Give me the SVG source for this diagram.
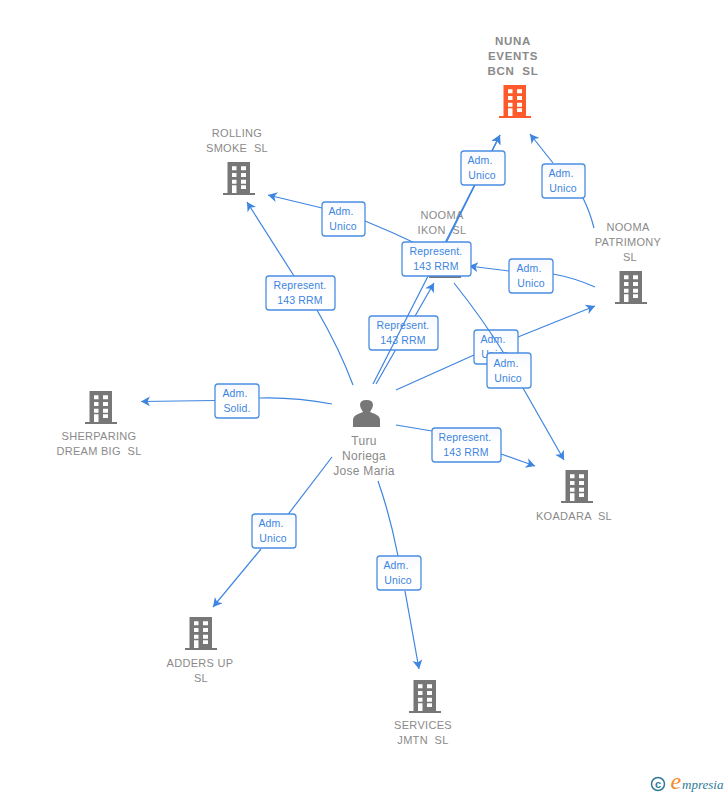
<svg xmlns="http://www.w3.org/2000/svg" width="728" height="795" viewBox="0 0 728 795">
<style>
text{font-family:"Liberation Sans",Arial,sans-serif}
.n{font-size:11px;fill:#8a8a8a;text-anchor:middle;letter-spacing:.3px;white-space:pre}
.b{font-weight:bold;font-size:11.500px;letter-spacing:.7px}
.t{font-size:12px}
.c{fill:none;stroke:#3d85e0;stroke-width:1.200}
.a{marker-end:url(#ah)}
.lb{fill:url(#lg);stroke:#4a8de2;stroke-width:1.300}
.lt{font-size:10.500px;fill:#3d85e0;text-anchor:middle;letter-spacing:.15px}
</style>
<defs>
<linearGradient id="lg" x1="0" y1="0" x2="0" y2="1"><stop offset="0" stop-color="#f7f9fd"/><stop offset=".5" stop-color="#fff"/></linearGradient>
<marker id="ah" markerUnits="userSpaceOnUse" markerWidth="12" markerHeight="12" refX="9" refY="5" orient="auto"><path d="M0 0L9 5L0 10L2.500 5Z" fill="#3d85e0"/></marker>
<path id="bld" fill-rule="evenodd" d="M4.500 0H27V31H32V33H0V31H4.500ZM9 4.300V8.300H13.500V4.300ZM18 4.300V8.300H23V4.300ZM9 11V15H13.500V11ZM18 11V15H23V11ZM9 17.700V21.700H13.500V17.700ZM18 17.700V21.700H23V17.700ZM9 23.300V31H13.500V23.300ZM18 23.300V27H23V23.300Z"/>
</defs>
<rect width="728" height="795" fill="#fff"/>
<g id="node-nuna"><use href="#bld" x="499" y="85" fill="#ff5a2b"/><text class="n b" x="513" y="45">NUNA</text><text class="n b" x="513" y="60">EVENTS</text><text class="n b" x="513" y="75">BCN  SL</text></g>
<g id="node-rolling"><use href="#bld" x="223" y="162" fill="#777"/><text class="n" x="237" y="137">ROLLING</text><text class="n" x="237" y="152">SMOKE  SL</text></g>
<g id="node-ikon"><use href="#bld" x="429" y="245" fill="#777"/><text class="n" x="442" y="219">NOOMA</text><text class="n" x="442" y="234">IKON  SL</text></g>
<g id="node-patrimony"><use href="#bld" x="615" y="271" fill="#777"/><text class="n" x="628" y="231">NOOMA</text><text class="n" x="628" y="246">PATRIMONY</text><text class="n" x="630" y="261">SL</text></g>
<g id="node-koadara"><use href="#bld" x="561" y="470" fill="#777"/><text class="n" x="574" y="520">KOADARA  SL</text></g>
<g id="node-sherparing"><use href="#bld" x="85" y="391" fill="#777"/><text class="n" x="99" y="440">SHERPARING</text><text class="n" x="99" y="455">DREAM BIG  SL</text></g>
<g id="node-adders"><use href="#bld" x="185" y="617" fill="#777"/><text class="n" x="200" y="667">ADDERS UP</text><text class="n" x="201" y="682">SL</text></g>
<g id="node-services"><use href="#bld" x="409" y="680" fill="#777"/><text class="n" x="423" y="729">SERVICES</text><text class="n" x="423" y="744">JMTN  SL</text></g>
<g id="node-turu"><path fill="#777" d="M353 427V420Q353 416 358 414L363 412Q360 408 360 405Q360 400 366.500 400Q373 400 373 405Q373 408 370 412L375 414Q380 416 380 420V427Z"/><text class="n t" x="364" y="445">Turu</text><text class="n t" x="364" y="460">Noriega</text><text class="n t" x="364" y="475">Jose Maria</text></g>
<g id="connectors">
<path class="c" d="M353 385Q340 350 317 310"/><path class="c a" d="M294 276L247 202"/>
<path class="c" d="M417 244Q392 232 365 221"/><path class="c a" d="M322 208L268 195"/>
<path class="c a" d="M376 384L434 283"/>
<path class="c a" d="M446 243L500 135"/>
<path class="c" d="M595 287Q575 278 553 274"/><path class="c a" d="M509 271L469 266"/>
<path class="c" d="M594 228Q590 212 583 198"/><path class="c a" d="M553 163L530 134"/>
<path class="c" d="M396 390L474 355"/><path class="c a" d="M518 337L595 306"/>
<path class="c a" d="M523 388L564 460"/>
<path class="c" d="M396 425L432 431"/><path class="c a" d="M501 454L535 466"/>
<path class="c" d="M332 404Q295 397 259 398"/><path class="c a" d="M215 400.500L141 401.500"/>
<path class="c" d="M332 457L280 525"/><path class="c a" d="M261 549L213 607"/>
<path class="c" d="M378 481Q390 515 398 556"/><path class="c a" d="M405 591L419 669"/>
</g>
<g id="labels-back">
<rect class="lb" x="369" y="316" width="69" height="34" rx="3"/><text class="lt" x="403" y="329">Represent.</text><text class="lt" x="403" y="344">143 RRM</text>
<rect class="lb" x="474" y="330" width="44" height="34" rx="3"/><text class="lt" x="493" y="343">Adm.</text><text class="lt" x="495" y="358">Unico</text>
</g>
<g id="connectors-front">
<path class="c a" d="M373 384L500 135"/>
<path class="c" d="M454 283Q482 318 505 355"/>
</g>
<g id="labels">
<rect class="lb" x="402" y="242" width="69" height="34" rx="3"/><text class="lt" x="436" y="255">Represent.</text><text class="lt" x="436" y="270">143 RRM</text>
<rect class="lb" x="461" y="151" width="44" height="34" rx="3"/><text class="lt" x="480" y="164">Adm.</text><text class="lt" x="482" y="179">Unico</text>
<rect class="lb" x="542" y="164" width="43" height="34" rx="3"/><text class="lt" x="561" y="177">Adm.</text><text class="lt" x="563" y="192">Unico</text>
<rect class="lb" x="322" y="202" width="43" height="34" rx="3"/><text class="lt" x="341" y="215">Adm.</text><text class="lt" x="343" y="230">Unico</text>
<rect class="lb" x="509" y="259" width="44" height="34" rx="3"/><text class="lt" x="529" y="272">Adm.</text><text class="lt" x="531" y="287">Unico</text>
<rect class="lb" x="266" y="276" width="69" height="34" rx="3"/><text class="lt" x="300" y="289">Represent.</text><text class="lt" x="300" y="304">143 RRM</text>
<rect class="lb" x="487" y="353" width="44" height="35" rx="3"/><text class="lt" x="506" y="367">Adm.</text><text class="lt" x="508" y="382">Unico</text>
<rect class="lb" x="432" y="428" width="69" height="34" rx="3"/><text class="lt" x="465" y="441">Represent.</text><text class="lt" x="466" y="456">143 RRM</text>
<rect class="lb" x="215" y="384" width="44" height="34" rx="3"/><text class="lt" x="235" y="397">Adm.</text><text class="lt" x="237" y="412">Solid.</text>
<rect class="lb" x="252" y="514" width="44" height="34" rx="3"/><text class="lt" x="271" y="527">Adm.</text><text class="lt" x="273" y="542">Unico</text>
<rect class="lb" x="377" y="556" width="44" height="34" rx="3"/><text class="lt" x="396" y="569">Adm.</text><text class="lt" x="398" y="584">Unico</text>
</g>
<g id="logo">
<circle cx="658" cy="784" r="6.500" fill="none" stroke="#2f7a96" stroke-width="1.500"/>
<text x="658" y="788" font-size="11" fill="#2f7a96" text-anchor="middle" font-weight="bold">c</text>
<text x="670.500" y="789" font-size="24" font-style="italic" fill="#f08a24" style="font-family:'Liberation Serif',serif">e</text>
<text x="682" y="789" font-size="13" font-style="italic" fill="#2f7a96" style="font-family:'Liberation Serif',serif">mpresia</text>
</g>
</svg>
